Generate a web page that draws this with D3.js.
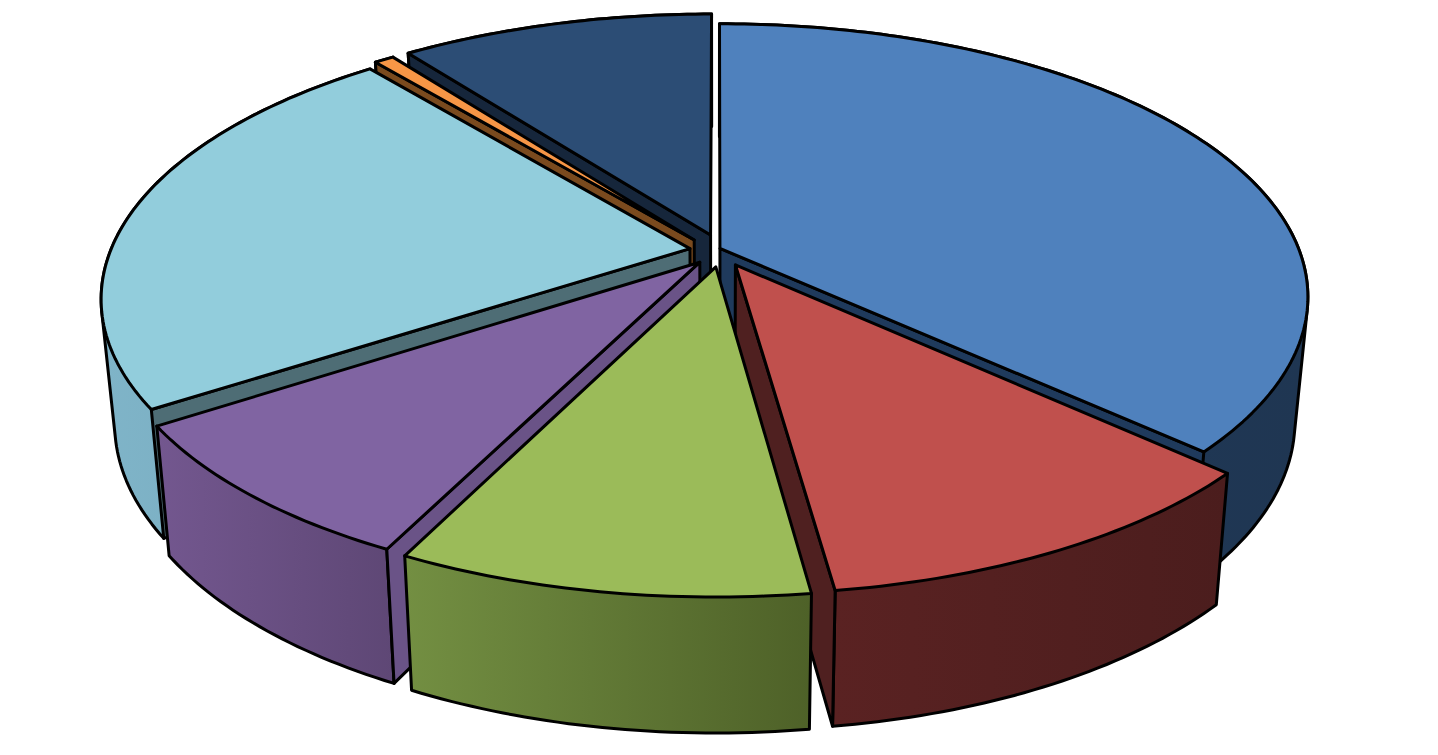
<!DOCTYPE html>
<html>
<head>
<meta charset="utf-8">
<script src="https://cdnjs.cloudflare.com/ajax/libs/d3/7.8.5/d3.min.js"></script>
<style>
html, body { margin: 0; padding: 0; background: #fff; overflow: hidden; }
</style>
</head>
<body>
<script>
// slices clockwise from 12 o'clock
var slices = ["a", "b", "c", "d", "e", "f", "g"]
var shares = [36.85, 11.0, 9.5, 8.4, 23.3, 0.65, 10.3]
// how far each slice is pulled out, pie radius = 1
var pullX = [0.005, 0.031, -0.002, -0.029, -0.046, -0.039, -0.011]
var pullY = [-0.006, 0.055, 0.062, 0.045, -0.005, -0.0375, -0.0566]

var topColors = ["#4f81bd", "#c0504d", "#9bbb59", "#8064a2", "#92cddc", "#f79646", "#2c4d75"]
var wallFrom = ["#1f3a5c", "#5a2222", "#738f42", "#73578f", "#7fb4c8", "#8a5020", "#1a2d45"]
var wallTo = ["#1f3652", "#4b1d1d", "#4e6128", "#5e4775", "#76a8bb", "#7a4a1e", "#1a2d45"]
var cutColors = ["#1f3a5c", "#4f2020", "#4e6128", "#6a5387", "#4e6d75", "#7a4a1e", "#16263b"]

// back to front
var drawOrder = [6, 5, 4, 0, 1, 3, 2]

var screen = {width: 1438, height: 755}
var center = {x: 717, y: 250}
var radius = 0.985
var persp = 0.18   // how much bigger the near edge gets
var depth = 122.5  // wall height
var shrink = 0.978 // bottom plane is a bit narrower

var xScale = d3.scaleLinear().domain([-1, 1]).range([-588, 588])
var yScale = d3.scaleLinear().domain([-1, 1]).range([-269, 269])

var svg = d3.select("body")
    .append("svg")
    .attr("width", screen.width)
    .attr("height", screen.height)
    .style("display", "block")

var defs = svg.append("defs")

var pie = d3.pie().sort(null).value(function(d) { return d })
var arcs = pie(shares)

// plane coords -> screen, X right, Y towards viewer
var project = function(X, Y, bottom)
{
    var p = 1 / (1 - persp * Y)
    var sx = xScale(X) * p
    var sy = yScale(Y) * p
    if (bottom) {
        return [center.x + sx * shrink, center.y + sy + depth * Math.sqrt(p)]
    }
    return [center.x + sx, center.y + sy]
}

var line = d3.line()

drawOrder.forEach(function(i)
{
    var a = arcs[i]
    var ox = pullX[i]
    var oy = pullY[i]

    var rim = function(t) {
        return [ox + radius * Math.sin(t), oy - radius * Math.cos(t)]
    }

    var n = Math.max(4, Math.ceil((a.endAngle - a.startAngle) * 60))
    var angles = d3.range(n + 1).map(function(k) {
        return a.startAngle + (a.endAngle - a.startAngle) * k / n
    })
    var topRim = angles.map(function(t) { var r = rim(t); return project(r[0], r[1], false) })
    var botRim = angles.map(function(t) { var r = rim(t); return project(r[0], r[1], true) })
    var apexTop = project(ox, oy, false)
    var apexBot = project(ox, oy, true)

    var g = svg.append("g").attr("id", "slice-" + slices[i])
        .attr("stroke", "#000")
        .attr("stroke-width", 3)
        .attr("stroke-linejoin", "round")

    // outer wall, hull so the sides run straight from top rim to bottom rim
    var wallPts = topRim.concat(botRim)
    var xs = wallPts.map(function(d) { return d[0] })
    var grad = defs.append("linearGradient")
        .attr("id", "wall-" + slices[i])
        .attr("gradientUnits", "userSpaceOnUse")
        .attr("x1", d3.min(xs)).attr("x2", d3.max(xs))
        .attr("y1", 0).attr("y2", 0)
    grad.append("stop").attr("offset", 0).attr("stop-color", wallFrom[i])
    grad.append("stop").attr("offset", 1).attr("stop-color", wallTo[i])

    g.append("path")
        .attr("d", line(d3.polygonHull(wallPts)) + "Z")
        .attr("fill", "url(#wall-" + slices[i] + ")")

    // cut faces, only the ones turned to the viewer
    if (Math.sin(a.startAngle) < 0) {
        g.append("path")
            .attr("d", line([apexTop, topRim[0], botRim[0], apexBot]) + "Z")
            .attr("fill", cutColors[i])
    }
    if (Math.sin(a.endAngle) > 0.001) {
        g.append("path")
            .attr("d", line([apexTop, topRim[n], botRim[n], apexBot]) + "Z")
            .attr("fill", cutColors[i])
    }

    // top
    g.append("path")
        .attr("d", line([apexTop].concat(topRim)) + "Z")
        .attr("fill", topColors[i])
})
</script>
</body>
</html>
